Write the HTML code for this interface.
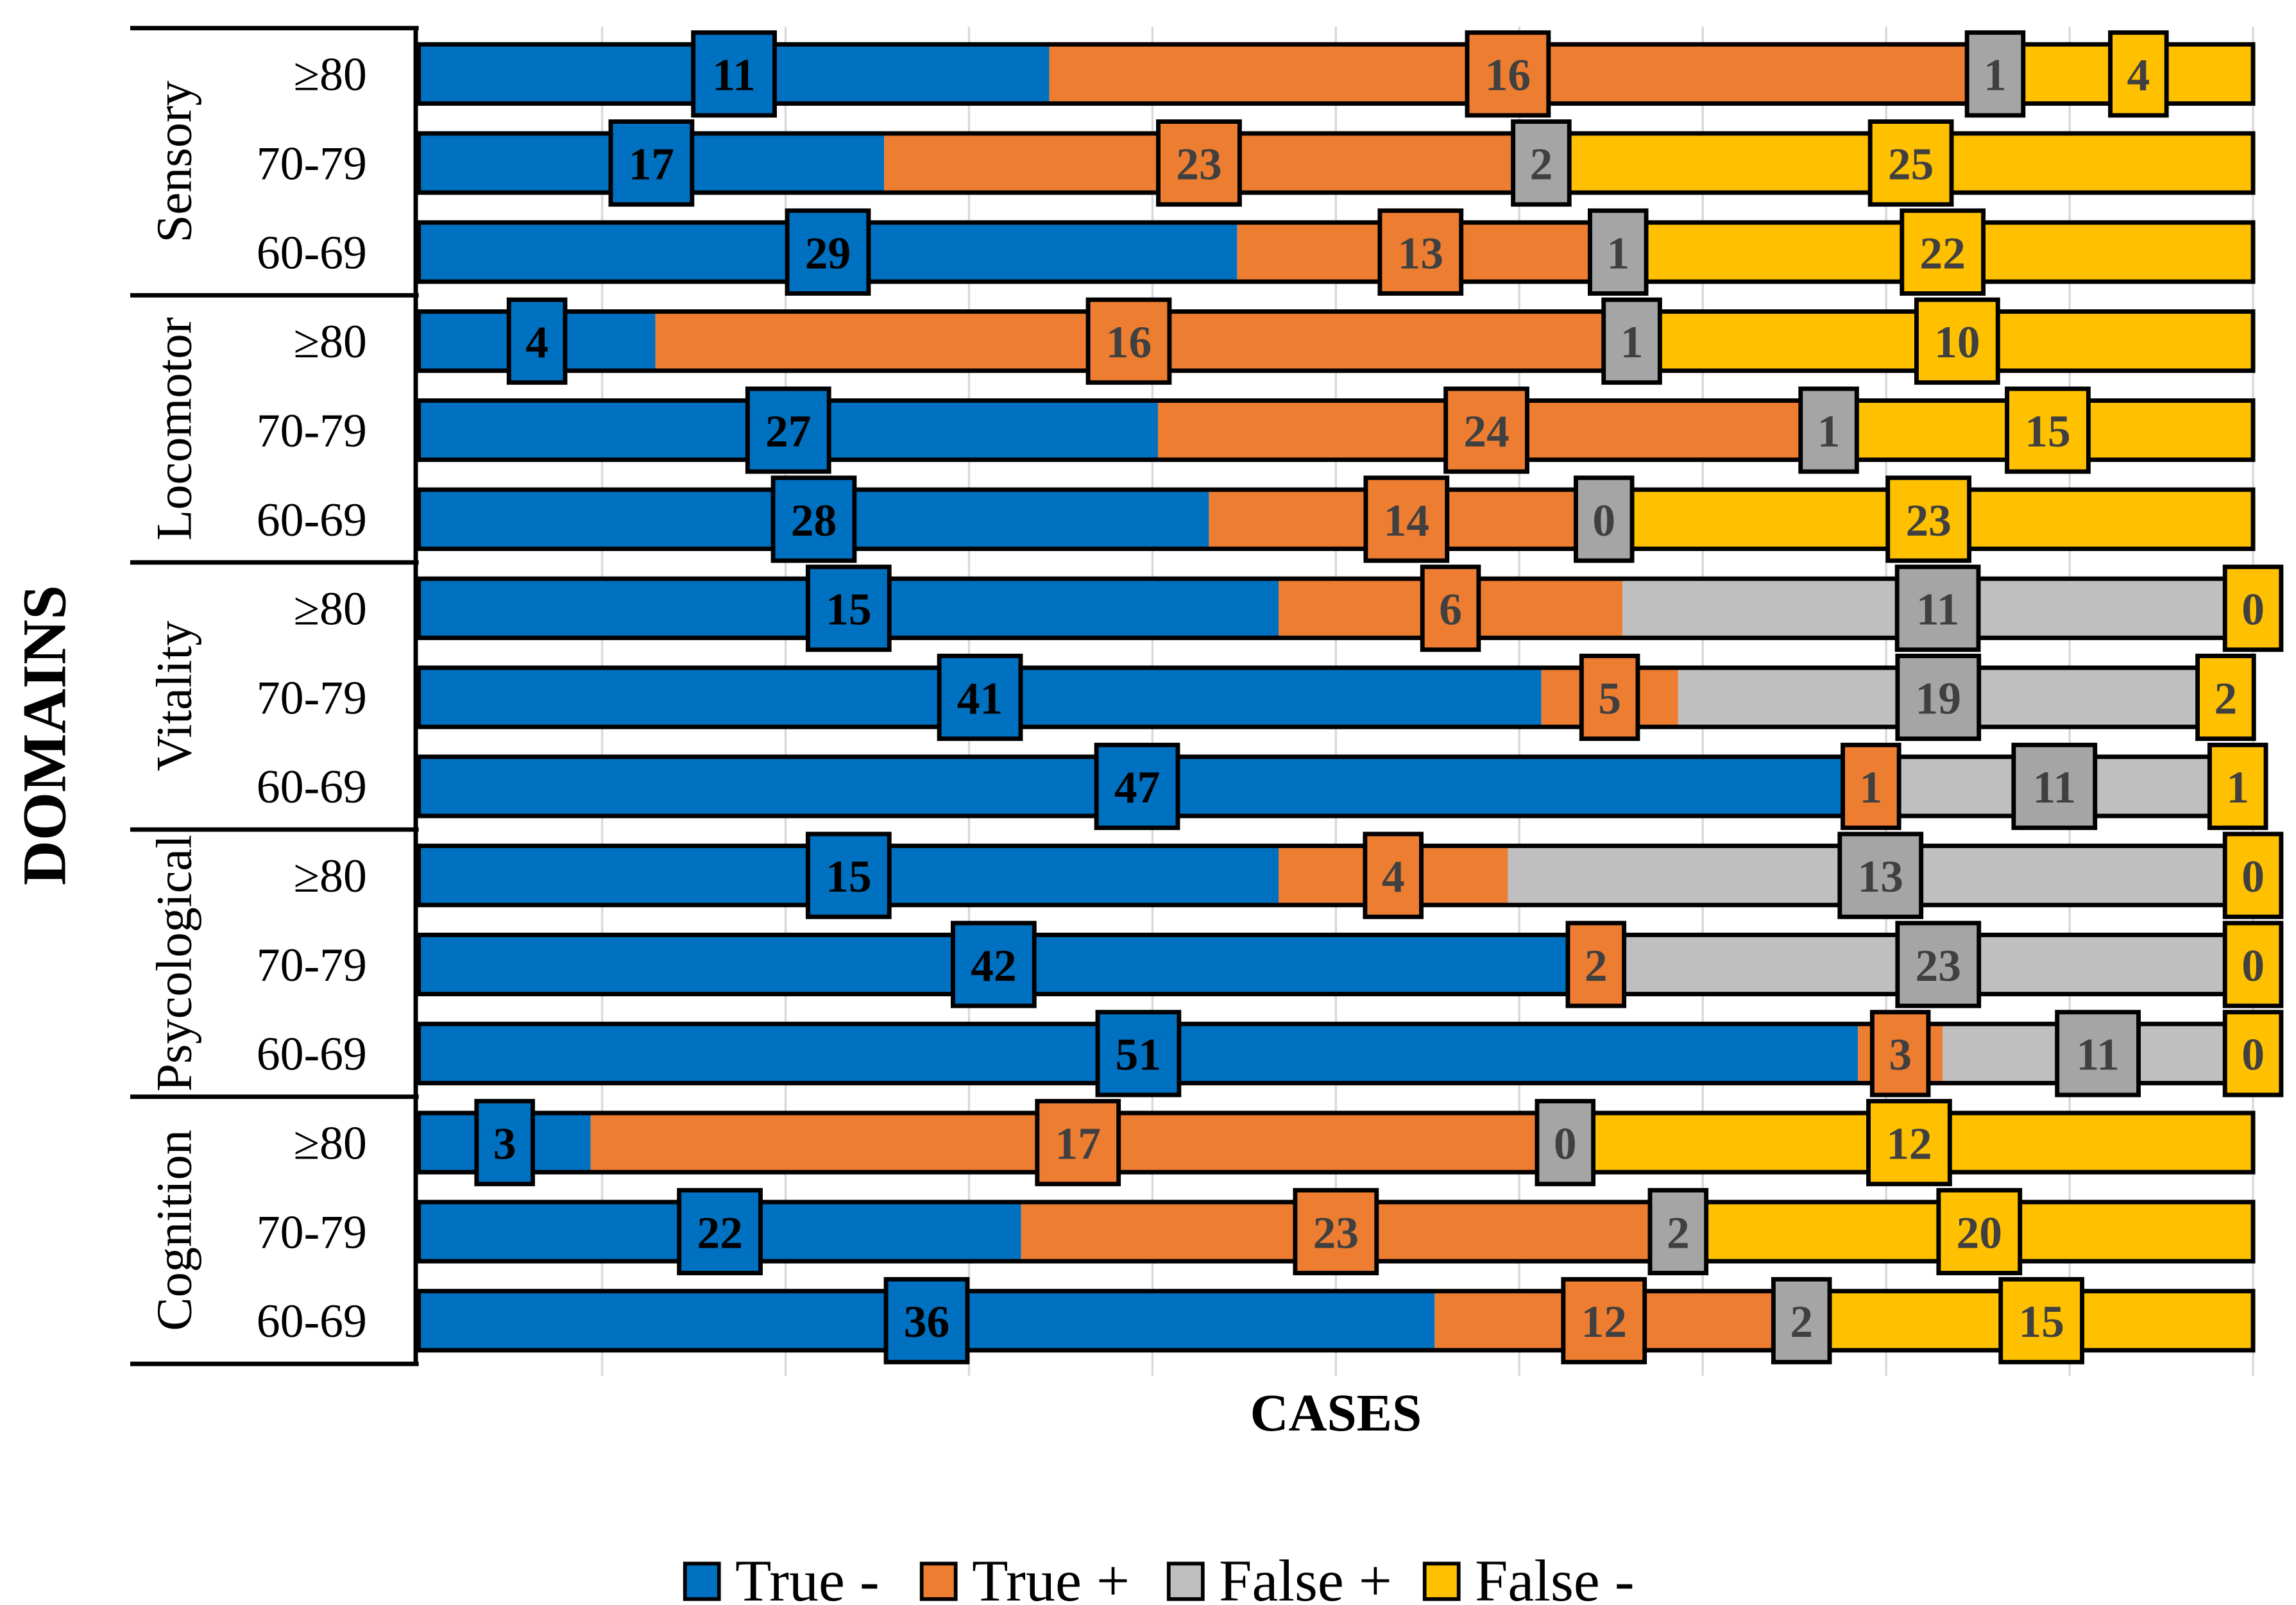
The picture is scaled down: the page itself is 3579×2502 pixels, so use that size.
<!DOCTYPE html>
<html><head><meta charset="utf-8">
<style>html,body{margin:0;padding:0;background:#fff;}svg{display:block;}</style>
</head><body>
<svg id="chart" xmlns="http://www.w3.org/2000/svg" width="3579" height="2502" viewBox="0 0 1552 1085" font-family="'Liberation Serif', serif">
<g id="grid"></g>
<g id="bars"></g>
<g id="labels"></g>
<g id="table"></g>
<text transform="translate(44,497) rotate(-90)" text-anchor="middle" font-size="42" font-weight="bold">DOMAINS</text>
<text x="903" y="967" text-anchor="middle" font-size="36" font-weight="bold">CASES</text>
<g font-size="40">
  <g><rect x="463" y="1057" width="23" height="24" fill="#0070c0" stroke="#000" stroke-width="2.5"/><text x="497" y="1082">True -</text></g>
  <g><rect x="623" y="1057" width="23" height="24" fill="#ed7d31" stroke="#000" stroke-width="2.5"/><text x="657" y="1082">True +</text></g>
  <g><rect x="790" y="1057" width="23" height="24" fill="#bfbfbf" stroke="#000" stroke-width="2.5"/><text x="824" y="1082">False +</text></g>
  <g><rect x="963" y="1057" width="23" height="24" fill="#ffc000" stroke="#000" stroke-width="2.5"/><text x="997" y="1082">False -</text></g>
</g>
</svg>
<script>
const domains = ["Sensory","Locomotor","Vitality","Psycological","Cognition"];
const ages = ["≥80","70-79","60-69"];
const trueNeg  = [11,17,29, 4,27,28, 15,41,47, 15,42,51, 3,22,36];
const truePos  = [16,23,13, 16,24,14, 6,5,1, 4,2,3, 17,23,12];
const falsePos = [1,2,1, 1,1,0, 11,19,11, 13,23,11, 0,2,2];
const falseNeg = [4,25,22, 10,15,23, 0,2,1, 0,0,0, 12,20,15];
const seriesNames = ["true-negative","true-positive","false-positive","false-negative"];
const series = [trueNeg, truePos, falsePos, falseNeg];
const barColors = ["#0070c0","#ed7d31","#bfbfbf","#ffc000"];
const boxColors = ["#0070c0","#ed7d31","#a5a5a5","#ffc000"];
const textColors = ["#000","#404040","#404040","#404040"];

const NS="http://www.w3.org/2000/svg";
const X0=283, X1=1523, Y0=20, ROW=60.2, BH=40;
const xScale = f => X0 + f*(X1-X0);
const yCenter = i => Y0 + 30 + i*ROW;
function mk(tag, attrs, parent){const e=document.createElementNS(NS,tag);for(const k in attrs)e.setAttribute(k,attrs[k]);parent.appendChild(e);return e;}

const grid=document.getElementById('grid');
for(let k=1;k<=10;k++){
  const l=mk('line',{x1:xScale(k/10),x2:xScale(k/10),y1:18,y2:930,stroke:'#d9d9d9','stroke-width':1.5},grid);
  
  
}
const bars=document.getElementById('bars'), labels=document.getElementById('labels');
const nRows=trueNeg.length;
for(let i=0;i<nRows;i++){
  const tot=series.reduce((a,s)=>a+s[i],0);
  let cum=0;
  const yc=yCenter(i);
  const segs=[];
  for(let s=0;s<4;s++){
    const xa=xScale(cum/tot), xb=xScale((cum+series[s][i])/tot);
    cum+=series[s][i];
    const r=mk('rect',{x:xa,y:yc-BH/2,width:Math.max(0,xb-xa),height:BH,fill:barColors[s]},bars);
    
    
    segs.push([xa,xb]);
  }
  const o=mk('rect',{x:X0,y:yc-BH/2,width:X1-X0,height:BH,fill:'none',stroke:'#000','stroke-width':3},bars);
  
  
  for(let s=0;s<4;s++){
    const v=series[s][i], cx=(segs[s][0]+segs[s][1])/2;
    const w=String(v).length>1?55:38;
    const g=mk('g',{},labels);
    
    
    mk('rect',{x:cx-w/2,y:yc-28,width:w,height:56,fill:boxColors[s],stroke:'#000','stroke-width':3},g);
    const t=mk('text',{x:cx,y:yc+11,'text-anchor':'middle','font-size':31,'font-weight':'bold',fill:textColors[s]},g);
    t.textContent=v;
  }
}
const table=document.getElementById('table');
const vl=mk('line',{x1:281,x2:281,y1:18,y2:923,stroke:'#000','stroke-width':3},table);


for(let d=0;d<=domains.length;d++){
  const y=Y0-1+d*3*ROW;
  const hl=mk('line',{x1:88,x2:283,y1:y,y2:y,stroke:'#000','stroke-width':3},table);
  
  
}
domains.forEach((name,d)=>{
  const cy=Y0-1+d*3*ROW+1.5*ROW;
  const t=mk('text',{transform:`translate(129,${cy}) rotate(-90)`,'text-anchor':'middle','font-size':34},table);
  
  
  t.textContent=name;
  ages.forEach((a,k)=>{
    const at=mk('text',{x:248,y:yCenter(d*3+k)+11,'text-anchor':'end','font-size':32},table);
    
    
    at.textContent=a;
  });
});
</script>
</body></html>
